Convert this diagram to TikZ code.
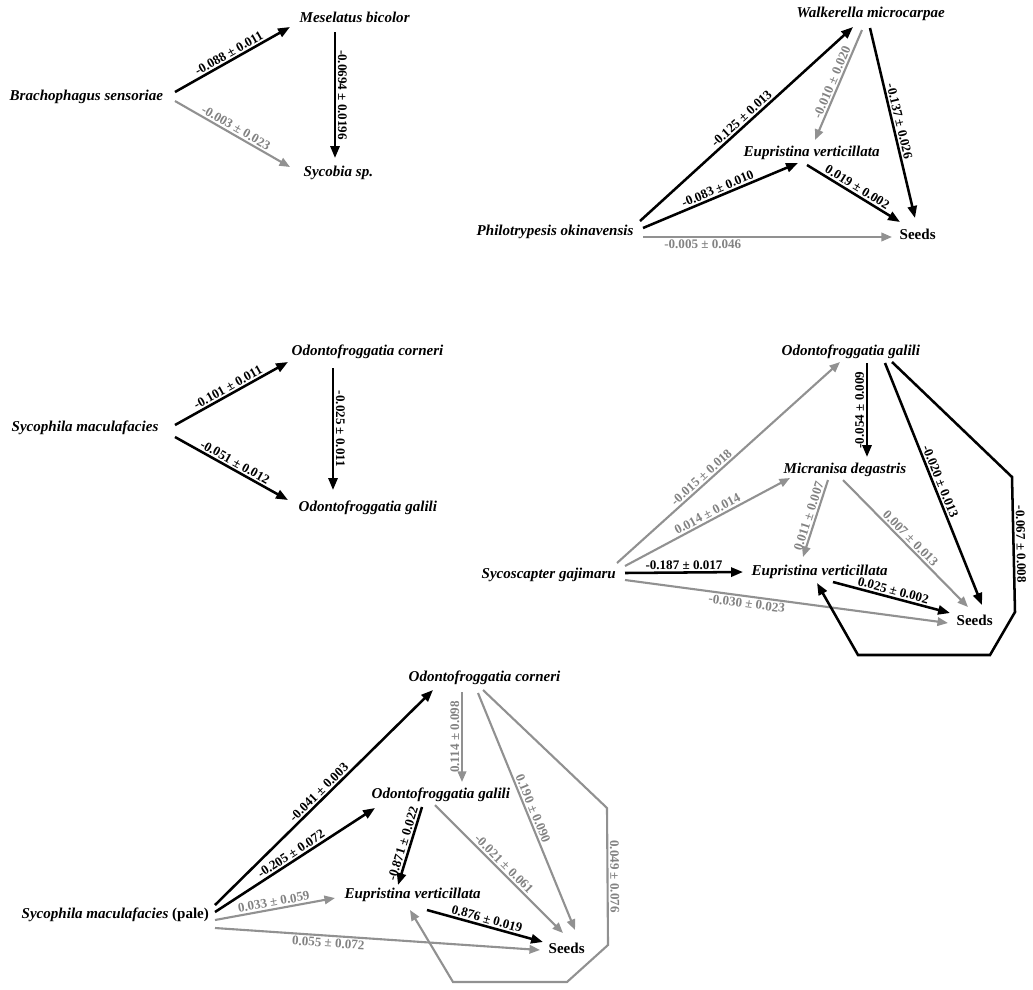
\documentclass[tikz,border=0pt]{standalone}
\usepackage{fontspec}
\setmainfont{Liberation Serif}
\usetikzlibrary{arrows.meta,calc}
\definecolor{pathgray}{RGB}{145,145,145}
\definecolor{lblgray}{RGB}{130,130,130}

\begin{document}
\begin{tikzpicture}[x=0.025cm, y=-0.025cm,
    species/.style={anchor=west, inner sep=1pt,
                    font=\fontsize{10.7}{12}\selectfont\bfseries\itshape},
    seedbox/.style={anchor=west, inner sep=1pt,
                    font=\fontsize{10.7}{12}\selectfont\bfseries},
    strong/.style={draw=black, line width=1.8pt, -{Triangle[length=8.5pt,width=6.5pt]}},
    weak/.style={draw=pathgray, line width=1.5pt, -{Triangle[length=7.5pt,width=6pt]}},
    coef/.style={font=\fontsize{9.3}{10}\selectfont\bfseries, inner sep=1.2pt},
    wcoef/.style={coef, text=lblgray}
]
\useasboundingbox (0,0) rectangle (1033,989);

% Panel 1: Brachophagus
\node[species] (brach) at (8,97)    {Brachophagus sensoriae};
\node[species] (mesel) at (298,17)  {Meselatus bicolor};
\node[species] (sycob) at (302,173) {Sycobia sp.};

\draw[strong] ($(brach.west)+(167,-5)$) -- node[coef,sloped,above]{-0.088 ± 0.011} ($(mesel.west)+(-8,10)$);
\draw[weak] ($(brach.west)+(167,4)$) -- node[wcoef,sloped,above]{-0.003 ± 0.023} ($(sycob.west)+(-12,-6)$);
\draw[strong] ($(mesel.west)+(37,15)$) -- node[coef,sloped,above]{-0.0694 ± 0.0196} ($(sycob.west)+(33,-15)$);

% Panel 2: Philotrypesis
\node[species] (philo) at (475,232) {Philotrypesis okinavensis};
\node[species] (walk)  at (795,14)  {Walkerella microcarpae};
\node[species] (eupA)  at (742,153) {Eupristina verticillata};
\node[seedbox] (seedA) at (898,234) {Seeds};

\draw[strong] ($(philo.west)+(165,-11)$) -- node[coef,sloped,above]{-0.125 ± 0.013} ($(walk.west)+(58,13)$);
\draw[strong] ($(philo.west)+(168,-4)$) -- node[coef,sloped,above]{-0.083 ± 0.010} ($(eupA.west)+(56,10)$);
\draw[weak] ($(philo.west)+(168,5)$) -- node[wcoef,below,pos=.24]{-0.005 ± 0.046} ($(seedA.west)+(-6,3)$);
\draw[weak] ($(walk.west)+(67,16)$) -- node[wcoef,sloped,above]{-0.010 ± 0.020} ($(eupA.west)+(73,-13)$);
\draw[strong] ($(walk.west)+(75,14)$) -- node[coef,sloped,above]{-0.137 ± 0.026} ($(seedA.west)+(17,-16)$);
\draw[strong] ($(eupA.west)+(65,12)$) -- node[coef,sloped,above]{0.019 ± 0.002} ($(seedA.west)+(2,-12)$);

% Panel 3: Sycophila
\node[species] (sycA) at (10,428)  {Sycophila maculafacies};
\node[species] (odcA) at (290,352) {Odontofroggatia corneri};
\node[species] (odgA) at (297,508) {Odontofroggatia galili};

\draw[strong] ($(sycA.west)+(165,-3)$) -- node[coef,sloped,above]{-0.101 ± 0.011} ($(odcA.west)+(-2,10)$);
\draw[strong] ($(sycA.west)+(165,9)$) -- node[coef,sloped,above]{-0.051 ± 0.012} ($(odgA.west)+(-9,-8)$);
\draw[strong] ($(odcA.west)+(43,16)$) -- node[coef,sloped,above]{-0.025 ± 0.011} ($(odgA.west)+(36,-18)$);

% Panel 4: Sycoscapter
\node[species] (odgB)  at (780,352) {Odontofroggatia galili};
\node[species] (micr)  at (782,470) {Micranisa degastris};
\node[species] (eupB)  at (750,572) {Eupristina verticillata};
\node[species] (gaji)  at (480,575) {Sycoscapter gajimaru};
\node[seedbox] (seedB) at (955,620) {Seeds};

\draw[weak] ($(gaji.west)+(137,-12)$) -- node[wcoef,sloped,above,pos=.4]{-0.015 ± 0.018} ($(odgB.west)+(60,10)$);
\draw[weak] ($(gaji.west)+(145,-9)$) -- node[wcoef,sloped,above,pos=.52]{0.014 ± 0.014} ($(micr.west)+(8,8)$);
\draw[strong] ($(gaji.west)+(145,-2)$) -- node[coef,above]{-0.187 ± 0.017} ($(eupB.west)+(-7,0)$);
\draw[weak] ($(gaji.west)+(145,5)$) -- node[wcoef,sloped,below,pos=.38]{-0.030 ± 0.023} ($(seedB.west)+(-7,3)$);
\draw[strong] ($(odgB.west)+(87,11)$) -- node[coef,rotate=90,anchor=south]{-0.054 ± 0.009} ($(micr.west)+(85,-13)$);
\draw[weak] ($(micr.west)+(46,10)$) -- node[wcoef,sloped,above]{0.011 ± 0.007} ($(eupB.west)+(53,-15)$);
\draw[weak] ($(micr.west)+(61,10)$) -- node[wcoef,sloped,above]{0.007 ± 0.013} ($(seedB.west)+(13,-13)$);
\draw[strong] ($(odgB.west)+(105,11)$) -- node[coef,sloped,above]{-0.020 ± 0.013} ($(seedB.west)+(27,-15)$);
\draw[strong] ($(eupB.west)+(83,10)$) -- node[coef,sloped,above]{0.025 ± 0.002} ($(seedB.west)+(-5,-7)$);
\draw[strong] ($(odgB.west)+(112,10)$) -- (1012,477)
    -- node[coef,sloped,above]{-0.067 ± 0.008} (1015,612)
    -- (990,655) -- (858,655) -- ($(eupB.west)+(67,11)$);

% Panel 5: Sycophila (pale)
\node[species] (odcC)  at (407,678) {Odontofroggatia corneri};
\node[species] (odgC)  at (370,795) {Odontofroggatia galili};
\node[species] (eupC)  at (343,895) {Eupristina verticillata};
\node[seedbox] (seedC) at (547,948) {Seeds};
\node[species] (pale)  at (20,915)  {Sycophila maculafacies {\upshape(pale)}};

\draw[strong] ($(pale.west)+(195,-10)$) -- node[coef,sloped,above]{-0.041 ± 0.003} ($(odcC.west)+(26,12)$);
\draw[strong] ($(pale.west)+(195,-3)$) -- node[coef,sloped,above]{-0.205 ± 0.072} ($(odgC.west)+(5,13)$);
\draw[weak] ($(pale.west)+(195,5)$) -- node[wcoef,sloped,above]{0.033 ± 0.059} ($(eupC.west)+(-8,3)$);
\draw[weak] ($(pale.west)+(195,13)$) -- node[wcoef,sloped,below,pos=.35]{0.055 ± 0.072} ($(seedC.west)+(-7,2)$);
\draw[weak] ($(odcC.west)+(55,14)$) -- node[wcoef,rotate=90,anchor=south]{0.114 ± 0.098} ($(odgC.west)+(92,-13)$);
\draw[weak] ($(odcC.west)+(71,15)$) -- node[wcoef,sloped,above]{0.190 ± 0.090} ($(seedC.west)+(28,-18)$);
\draw[weak] ($(odgC.west)+(65,10)$) -- node[wcoef,sloped,above]{-0.021 ± 0.061} ($(seedC.west)+(16,-15)$);
\draw[strong] ($(odgC.west)+(52,12)$) -- node[coef,sloped,above]{-0.871 ± 0.022} ($(eupC.west)+(55,-10)$);
\draw[strong] ($(eupC.west)+(84,15)$) -- node[coef,sloped,above]{0.876 ± 0.019} ($(seedC.west)+(-4,-6)$);
\draw[weak] ($(odcC.west)+(76,12)$) -- (607,808)
    -- node[wcoef,sloped,above]{0.049 ± 0.076} (608,945)
    -- (567,982) -- (453,982) -- ($(eupC.west)+(67,15)$);

\end{tikzpicture}
\end{document}
